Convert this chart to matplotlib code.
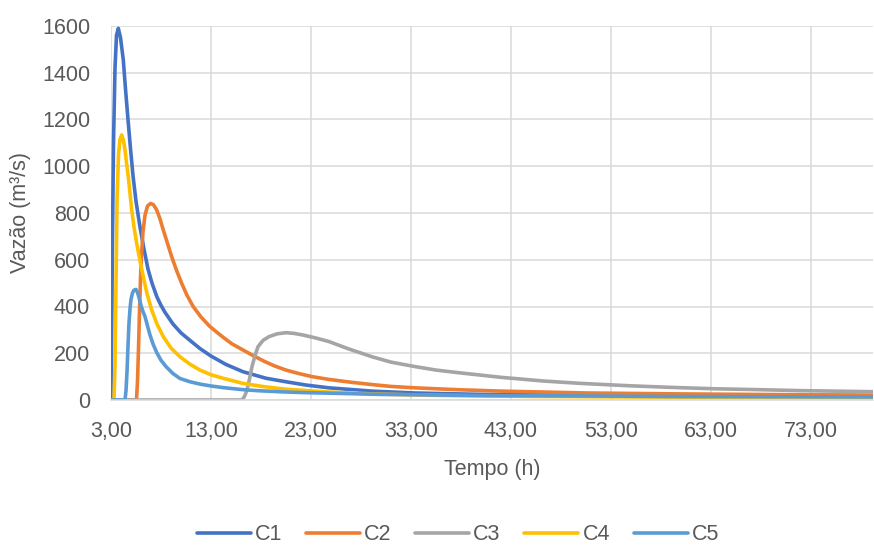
import matplotlib
matplotlib.use("Agg")
import matplotlib.pyplot as plt

# series (tempo in h, vazão in m³/s)
t_c1 = [3.0, 3.05, 3.15, 3.25, 3.4, 3.55, 3.73, 3.95, 4.23, 4.45, 4.7, 4.95, 5.2, 5.5,
        5.9, 6.3, 6.7, 7.1, 7.6, 8.0, 8.4, 9.2, 10.0, 10.9, 11.9, 13.0, 14.5, 16.2,
        18.5, 20.5, 22.5, 24.8, 29.1, 33.4, 40, 50, 60, 70, 80]
q_c1 = [0, 200, 700, 1100, 1420, 1560, 1590, 1550, 1455, 1330, 1200, 1075, 960, 850,
        740, 645, 560, 500, 440, 405, 375, 325, 287, 255, 220, 188, 152, 121,
        93, 78, 64, 52, 38, 30, 24, 20, 17, 15, 14]

t_c2 = [3.0, 5.55, 5.65, 5.75, 5.85, 5.95, 6.05, 6.2, 6.4, 6.65, 6.97, 7.25, 7.57,
        7.9, 8.23, 8.65, 9.07, 9.55, 10.07, 10.6, 11.23, 12.0, 12.9, 14.1, 15.1, 16.2,
        17.3, 18.4, 19.4, 20.5, 21.8, 23.1, 24.8, 27.0, 29.1, 31.0, 33.4, 37.7, 42,
        50.6, 60, 70, 80]
q_c2 = [0, 0, 80, 220, 380, 520, 620, 720, 790, 830, 841, 835, 813,
        775, 727, 670, 613, 555, 499, 448, 399, 355, 314, 272, 240, 214,
        188, 164, 145, 128, 113, 100, 88, 76, 66, 58, 52, 44, 38,
        30, 26, 23, 21]

t_c3 = [3.0, 16.0, 16.2, 16.4, 16.6, 16.85, 17.1, 17.4, 17.7, 18.2, 18.8, 19.6, 20.5,
        21.3, 22.2, 23.5, 24.8, 26.8, 29.1, 31.0, 33.4, 35.5, 37.7, 42, 46.3, 50,
        54.8, 59, 63.4, 68, 72, 80]
q_c3 = [0, 0, 5, 20, 43, 90, 143, 190, 228, 255, 271, 283, 288,
        285, 278, 265, 250, 218, 185, 162, 143, 128, 117, 97, 81, 71,
        61, 54, 48, 44, 40, 35]

t_c4 = [3.0, 3.3, 3.4, 3.5, 3.6, 3.75, 3.9, 4.07, 4.25, 4.4, 4.55, 4.73, 4.9, 5.07,
        5.3, 5.57, 5.9, 6.23, 6.6, 7.07, 7.6, 8.23, 9.0, 9.9, 10.9, 11.9, 13.0, 14.2,
        16.2, 18.3, 20.5, 24.8, 29.1, 35, 45, 60, 80]
q_c4 = [0, 0, 150, 500, 850, 1050, 1115, 1134, 1110, 1070, 1015, 955, 885, 813,
        740, 670, 595, 527, 455, 385, 325, 271, 222, 185, 153, 128, 108, 93,
        71, 57, 46, 34, 26, 20, 15, 12, 10]

t_c5 = [3.0, 4.4, 4.5, 4.6, 4.7, 4.8, 4.9, 5.0, 5.15, 5.3, 5.5, 5.65, 5.8, 6.0, 6.2,
        6.4, 6.6, 6.9, 7.2, 7.57, 8.0, 8.5, 9.2, 9.9, 10.9, 11.9, 13.0, 14.2, 16.0,
        17.6, 20, 22, 30, 40, 60, 80]
q_c5 = [0, 0, 40, 120, 230, 330, 390, 430, 458, 470, 473, 460, 438, 405, 378,
        357, 325, 278, 240, 203, 170, 143, 113, 92, 78, 68, 60, 53, 45,
        40, 35, 32, 24, 19, 15, 13]

series = [("C1", t_c1, q_c1), ("C2", t_c2, q_c2), ("C3", t_c3, q_c3),
          ("C4", t_c4, q_c4), ("C5", t_c5, q_c5)]
colors = ["#4472C4", "#ED7D31", "#A5A5A5", "#FFC000", "#5B9BD5"]

x_ticks = [3, 13, 23, 33, 43, 53, 63, 73]
x_labels = ["3,00", "13,00", "23,00", "33,00", "43,00", "53,00", "63,00", "73,00"]
y_ticks = [0, 200, 400, 600, 800, 1000, 1200, 1400, 1600]

FONT = ["Liberation Sans Narrow", "Liberation Sans", "DejaVu Sans"]
TEXT_COLOR = "#595959"
GRID_COLOR = "#D9D9D9"
FS = 15.5

plt.rcParams["font.family"] = FONT

fig = plt.figure(figsize=(8.74, 5.45), dpi=100)
ax = fig.add_axes([111 / 874, 145 / 545, 762 / 874, 374 / 545])

for (name, t, q), c in zip(series, colors):
    ax.plot(t, q, color=c, lw=2.6, label=name, solid_joinstyle="round",
            solid_capstyle="round")

ax.set_xlim(3, 79.2)
ax.set_ylim(0, 1600)
ax.set_xticks(x_ticks)
ax.set_xticklabels(x_labels)
ax.set_yticks(y_ticks)

ax.grid(True, color=GRID_COLOR, lw=1.1)
ax.set_axisbelow(True)
for s in ["top", "right", "left"]:
    ax.spines[s].set_visible(False)
ax.spines["bottom"].set_color(GRID_COLOR)
ax.spines["bottom"].set_linewidth(1.1)

ax.tick_params(length=0, labelsize=FS, labelcolor=TEXT_COLOR)
ax.tick_params(axis="y", pad=15)
ax.tick_params(axis="x", pad=15)

ax.set_xlabel("Tempo (h)", fontsize=FS, color=TEXT_COLOR, labelpad=12)
ax.set_ylabel("Vazão (m³/s)", fontsize=FS, color=TEXT_COLOR, labelpad=8)

fig.legend(loc="center", bbox_to_anchor=(458 / 874, 1 - 535 / 545), ncol=5,
           frameon=False, fontsize=FS, handlelength=2.5, handletextpad=0.2,
           columnspacing=1.1, labelcolor=TEXT_COLOR)

fig.savefig("out.png", dpi=100)
